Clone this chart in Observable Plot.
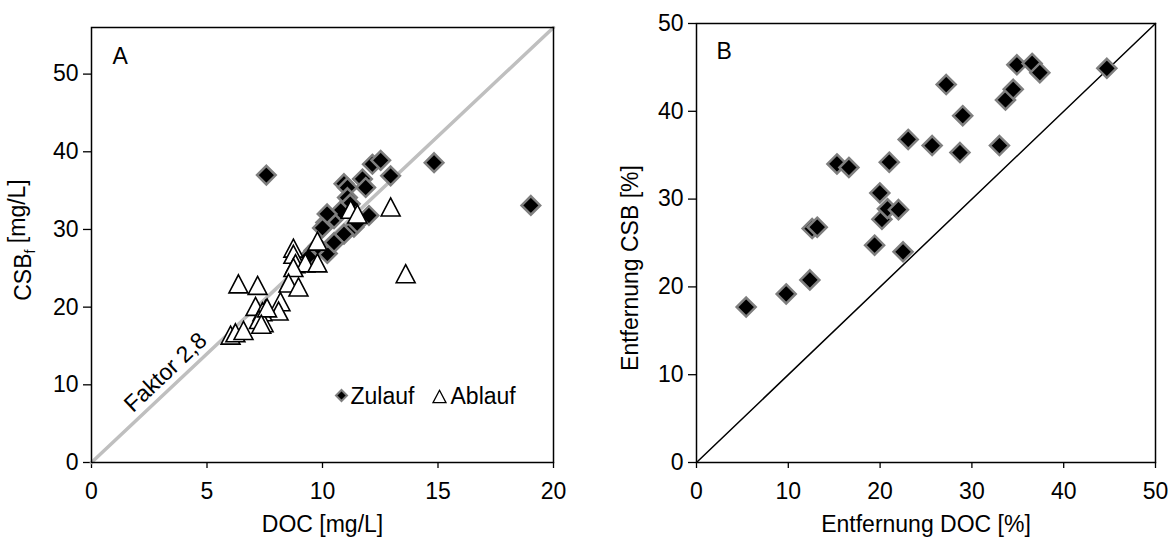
<!DOCTYPE html>
<html>
<head>
<meta charset="utf-8">
<script src="https://cdn.jsdelivr.net/npm/d3@7"></script>
<script src="https://cdn.jsdelivr.net/npm/@observablehq/plot@0.6"></script>
<style>
  html, body { margin: 0; padding: 0; background: #fff; }
  #wrap { position: relative; width: 1176px; height: 541px; overflow: hidden; }
  #wrap > div { position: absolute; top: 0; }
  #pa { left: 0; }
  #pb { left: 600px; }
</style>
</head>
<body>
<div id="wrap"><div id="pa"></div><div id="pb"></div></div>
<script>
// ---------- Data ----------
// Panel A: DOC vs CSB_f (mg/L)
const zulaufDOC = [7.57, 14.83, 19.02, 12.16, 12.52, 12.95, 11.73, 11.87, 10.93, 11.08, 11.08, 11.2, 12.01, 11.36, 10.93, 10.14, 10.5, 10.79, 10.2, 11.5, 10.0, 10.21, 9.63, 9.8, 10.5, 9.4];
const zulaufCSB = [37.0, 38.6, 33.1, 38.4, 38.9, 36.9, 36.5, 35.4, 35.9, 35.4, 34.1, 33.3, 31.8, 30.3, 29.4, 30.9, 31.4, 32.4, 32.0, 30.8, 30.2, 26.9, 27.3, 27.8, 28.3, 26.5];
const ablaufDOC = [12.95, 13.6, 11.22, 11.51, 9.78, 8.74, 8.74, 8.83, 9.26, 9.78, 8.74, 8.53, 8.96, 6.36, 7.19, 8.18, 7.1, 7.53, 8.1, 7.4, 7.25, 7.45, 6.02, 6.23, 6.58, 7.6, 7.35];
const ablaufCSB = [32.9, 24.3, 32.6, 32.0, 28.5, 27.6, 26.8, 25.6, 25.7, 25.7, 25.1, 23.1, 22.6, 23.0, 22.8, 20.7, 20.1, 19.7, 19.5, 19.4, 18.4, 18.0, 16.4, 16.7, 17.0, 19.9, 17.8];
const factor = 2.8;
const factorLabel = "Faktor 2,8";
const factorLabelAt = 3.64; // DOC value along the line where the label sits

// Panel B: removal DOC vs removal CSB (%)
const entfDOC = [5.41, 9.77, 12.35, 12.6, 13.15, 15.3, 16.6, 19.4, 19.97, 20.2, 20.8, 22.0, 21.0, 22.5, 23.06, 25.67, 27.2, 28.7, 29.0, 33.0, 33.66, 34.5, 34.9, 36.56, 37.4, 44.7];
const entfCSB = [17.7, 19.2, 20.8, 26.65, 26.8, 34.0, 33.6, 24.75, 30.7, 27.7, 28.9, 28.8, 34.2, 24.0, 36.8, 36.1, 43.05, 35.3, 39.5, 36.1, 41.3, 42.5, 45.3, 45.45, 44.4, 44.9];

// Axes / ticks
const domainAx = [0, 20], ticksAx = [0, 5, 10, 15, 20];
const domainAy = [0, 56], ticksAy = [0, 10, 20, 30, 40, 50];
const domainB = [0, 50], ticksB = [0, 10, 20, 30, 40, 50];
const legendLabels = ["Zulauf", "Ablauf"];

// ---------- Build ----------
const zulauf = zulaufDOC.map((d, i) => ({x: d, y: zulaufCSB[i]}));
const ablauf = ablaufDOC.map((d, i) => ({x: d, y: ablaufCSB[i]}));
const entf = entfDOC.map((d, i) => ({x: d, y: entfCSB[i]}));
const factorLine = domainAx.map(x => ({x, y: x * factor}));
const oneLine = domainB.map(v => ({x: v, y: v}));

const diamondSym = {draw(ctx, size) { const r = Math.sqrt(size / Math.PI); ctx.moveTo(0, -r); ctx.lineTo(r, 0); ctx.lineTo(0, r); ctx.lineTo(-r, 0); ctx.closePath(); }};
const triSym = {draw(ctx, size) { const r = Math.sqrt(size / Math.PI); ctx.moveTo(0, -r); ctx.lineTo(1.05 * r, r); ctx.lineTo(-1.05 * r, r); ctx.closePath(); }};

const FONT = "'Liberation Sans', Arial, Helvetica, sans-serif";
const style = {fontFamily: FONT, fontSize: "23px", color: "#000", background: "#fff", overflow: "visible"};

const plotA = Plot.plot({
  width: 600, height: 541,
  marginLeft: 91, marginRight: 47, marginTop: 27, marginBottom: 79,
  style,
  x: {domain: domainAx, ticks: ticksAx},
  y: {domain: domainAy, ticks: ticksAy},
  marks: [
    Plot.axisX({ticks: ticksAx, tickSize: 6, tickPadding: 14, label: null, strokeWidth: 1.3}),
    Plot.axisY({ticks: ticksAy, tickSize: 8, tickPadding: 5, label: null, strokeWidth: 1.3}),
    Plot.line(factorLine, {x: "x", y: "y", stroke: "#bfbfbf", strokeWidth: 3.5}),
    Plot.text([factorLabel], {x: () => factorLabelAt, y: () => factorLabelAt * factor, text: d => d, rotate: -43.3, dx: -10, dy: -11, textAnchor: "middle", lineAnchor: "middle"}),
    Plot.dot(zulauf, {x: "x", y: "y", symbol: diamondSym, r: 9.3, fill: "#000", stroke: "#7f7f7f", strokeWidth: 2.5}),
    Plot.dot(ablauf, {x: "x", y: "y", symbol: triSym, r: 9, fill: "#fff", stroke: "#000", strokeWidth: 1.6}),
    Plot.frame({stroke: "#000", strokeWidth: 1.5}),
    Plot.text(["A"], {frameAnchor: "top-left", text: d => d, dx: 21, dy: 20, textAnchor: "start", lineAnchor: "top"}),
    // legend
    Plot.dot([0], {frameAnchor: "bottom-left", dx: 250, dy: -67, symbol: diamondSym, r: 5.5, fill: "#000", stroke: "#7f7f7f", strokeWidth: 2}),
    Plot.text([legendLabels[0]], {frameAnchor: "bottom-left", dx: 259, dy: -66, text: d => d, textAnchor: "start", lineAnchor: "middle"}),
    Plot.dot([0], {frameAnchor: "bottom-left", dx: 348, dy: -66, symbol: triSym, r: 6.2, fill: "#fff", stroke: "#000", strokeWidth: 1.3}),
    Plot.text([legendLabels[1]], {frameAnchor: "bottom-left", dx: 359, dy: -66, text: d => d, textAnchor: "start", lineAnchor: "middle"}),
    Plot.text(["DOC [mg/L]"], {frameAnchor: "bottom", dy: 69, text: d => d, textAnchor: "middle", lineAnchor: "bottom"})
  ]
});

// Y label with subscript f
d3.select(plotA).append("text")
  .attr("transform", "translate(31,240) rotate(-90)")
  .attr("text-anchor", "middle")
  .attr("fill", "#000")
  .style("font-family", FONT).style("font-size", "23px")
  .call(t => {
    t.append("tspan").text("CSB");
    t.append("tspan").attr("dy", "0.28em").style("font-size", "14px").text("f");
    t.append("tspan").attr("dy", "-0.45em").text(" [mg/L]");
  });

const plotB = Plot.plot({
  width: 576, height: 541,
  marginLeft: 96, marginRight: 21, marginTop: 23, marginBottom: 79,
  style,
  x: {domain: domainB, ticks: ticksB},
  y: {domain: domainB, ticks: ticksB},
  marks: [
    Plot.axisX({ticks: ticksB, tickSize: 6, tickPadding: 14, label: null, strokeWidth: 1.3}),
    Plot.axisY({ticks: ticksB, tickSize: 8, tickPadding: 5, label: null, strokeWidth: 1.3}),
    Plot.line(oneLine, {x: "x", y: "y", stroke: "#000", strokeWidth: 1.5}),
    Plot.dot(entf, {x: "x", y: "y", symbol: diamondSym, r: 9.5, fill: "#000", stroke: "#7f7f7f", strokeWidth: 2.5}),
    Plot.frame({stroke: "#000", strokeWidth: 1.5}),
    Plot.text(["B"], {frameAnchor: "top-left", text: d => d, dx: 20, dy: 19, textAnchor: "start", lineAnchor: "top"}),
    Plot.text(["Entfernung DOC [%]"], {frameAnchor: "bottom", dy: 69, text: d => d, textAnchor: "middle", lineAnchor: "bottom"}),
    Plot.text(["Entfernung CSB [%]"], {frameAnchor: "left", dx: -59, dy: 25, rotate: -90, text: d => d, textAnchor: "middle", lineAnchor: "bottom"})
  ]
});

document.getElementById("pa").appendChild(plotA);
document.getElementById("pb").appendChild(plotB);
</script>
</body>
</html>
